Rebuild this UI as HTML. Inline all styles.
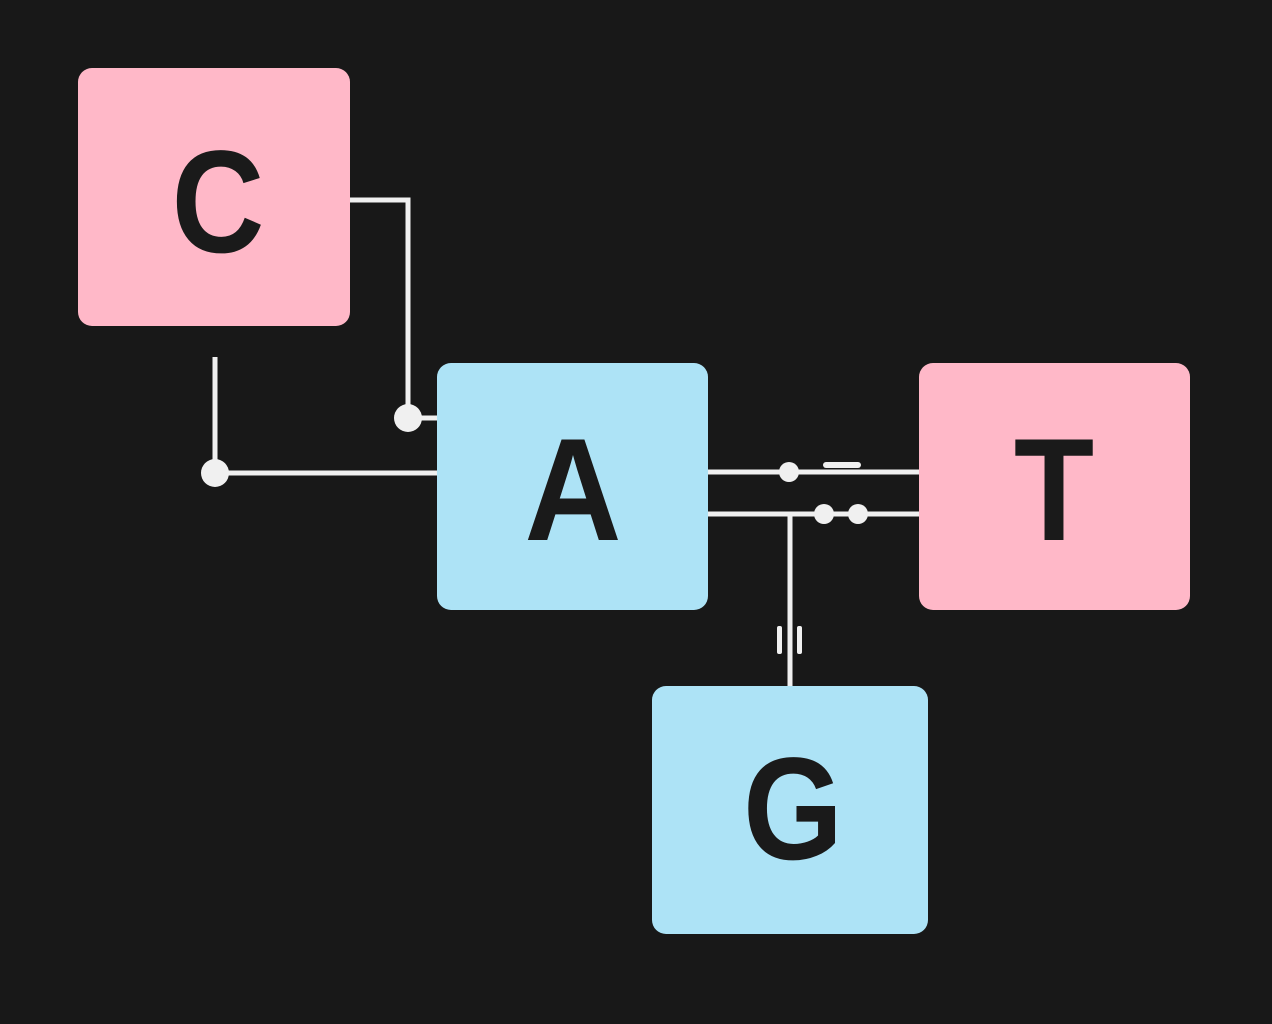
<!DOCTYPE html>
<html><head><style>
html,body{margin:0;padding:0;background:#181818;overflow:hidden;}
svg{display:block;}
</style></head><body>
<svg width="1272" height="1024" viewBox="0 0 1272 1024" xmlns="http://www.w3.org/2000/svg">
<rect width="1272" height="1024" fill="#181818"/>
<g fill="none" stroke="#f0f0f0" stroke-width="5">
<polyline points="350,200 408,200 408,418"/>
<line x1="408" y1="418" x2="438" y2="418"/>
<line x1="215" y1="357" x2="215" y2="473"/>
<line x1="215" y1="473" x2="438" y2="473"/>
<line x1="707" y1="472" x2="920" y2="472"/>
<line x1="707" y1="514" x2="920" y2="514"/>
<line x1="790" y1="514" x2="790" y2="687"/>
</g>
<g fill="#f0f0f0">
<circle cx="408" cy="418" r="14"/>
<circle cx="215" cy="473" r="14"/>
<circle cx="789" cy="472" r="10"/>
<circle cx="824" cy="514" r="10"/>
<circle cx="858" cy="514" r="10"/>
<rect x="823" y="462" width="38" height="6" rx="3"/>
<rect x="777" y="626" width="5" height="28" rx="2"/>
<rect x="797" y="626" width="5" height="28" rx="2"/>
</g>
<rect x="78" y="68" width="272" height="258" rx="14" fill="#ffb8c8"/>
<rect x="437" y="363" width="271" height="247" rx="14" fill="#ade3f6"/>
<rect x="919" y="363" width="271" height="247" rx="14" fill="#ade3f6" style="fill:#ffb8c8"/>
<rect x="652" y="686" width="276" height="248" rx="14" fill="#ade3f6"/>
<g font-family="Liberation Sans, sans-serif" font-weight="bold" font-size="146" fill="#1a1a1a" text-anchor="middle">
<text transform="translate(218,252) scale(0.88,1)">C</text>
<text transform="translate(573,540) scale(0.92,1)">A</text>
<text transform="translate(1054,540) scale(0.9,1)">T</text>
<text transform="translate(793,859) scale(0.88,1)">G</text>
</g>
</svg>
</body></html>
